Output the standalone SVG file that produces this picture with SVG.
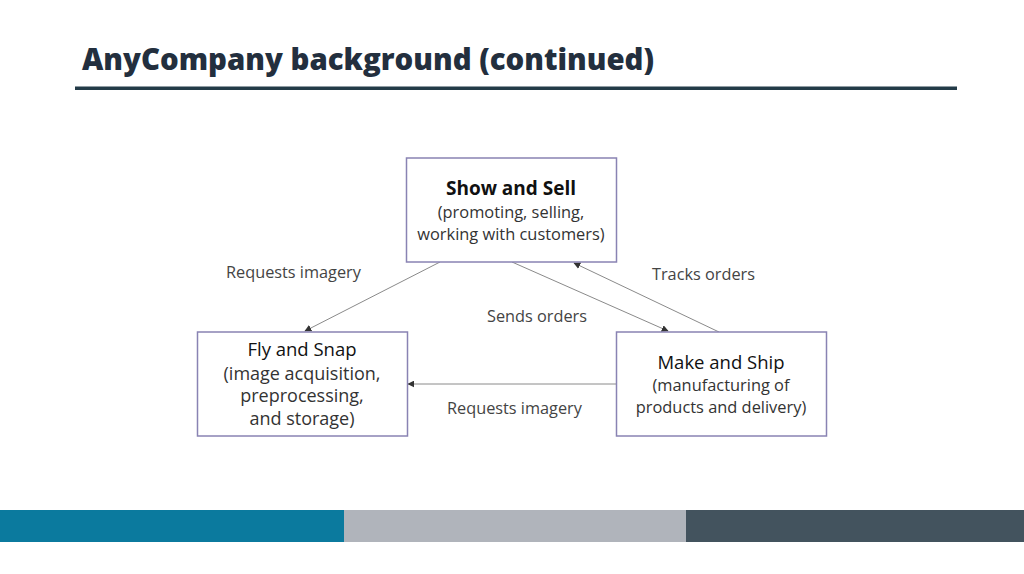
<svg xmlns="http://www.w3.org/2000/svg" width="1024" height="574" viewBox="0 0 1024 574">
  <defs>
    <marker id="arr" viewBox="0 0 10 10" refX="9" refY="5" markerWidth="7" markerHeight="7" markerUnits="userSpaceOnUse" orient="auto">
      <path d="M0,0 L10,5 L0,10 z" fill="#333"/>
    </marker>
    <style>
      .box { fill: #ffffff; stroke: #8983b3; stroke-width: 1.5; }
      .t { font-family: "Open Sans", "Liberation Sans", sans-serif; font-size: 16.4px; fill: #333333; text-anchor: middle; }
      .b { font-weight: 700; font-size: 19px; fill: #111111; }
      .m { font-weight: 500; font-size: 18.5px; fill: #111111; }
      .big { font-size: 18px; }
      .lbl { font-family: "Open Sans", "Liberation Sans", sans-serif; font-size: 16.3px; fill: #444444; }
      .conn { stroke: #8a8a8a; stroke-width: 1; fill: none; marker-end: url(#arr); }
    </style>
  </defs>
  <rect width="1024" height="574" fill="#ffffff"/>
  <g id="header">
    <text x="82" y="70" font-family="'Open Sans', 'Liberation Sans', sans-serif" font-weight="800" font-size="30" fill="#232f3e" textLength="572" lengthAdjust="spacingAndGlyphs">AnyCompany background (continued)</text>
    <rect x="75" y="86.5" width="882" height="3.5" fill="#233b48"/>
  </g>
  <g id="connectors">
    <line class="conn" x1="440" y1="262" x2="305" y2="331"/>
    <line class="conn" x1="512" y1="262" x2="668" y2="331"/>
    <line class="conn" x1="719" y1="332" x2="574" y2="263"/>
    <line class="conn" x1="616" y1="384" x2="408" y2="384"/>
    <text class="lbl" x="226" y="278">Requests imagery</text>
    <text class="lbl" x="487" y="322">Sends orders</text>
    <text class="lbl" x="652" y="280">Tracks orders</text>
    <text class="lbl" x="447" y="414">Requests imagery</text>
  </g>
  <g id="show-and-sell">
    <rect class="box" x="406.5" y="158" width="210" height="104"/>
    <text class="t b" x="511" y="195">Show and Sell</text>
    <text class="t" x="511" y="218">(promoting, selling,</text>
    <text class="t" x="511" y="240">working with customers)</text>
  </g>
  <g id="fly-and-snap">
    <rect class="box" x="197.5" y="332" width="210" height="104"/>
    <text class="t m" x="302" y="356">Fly and Snap</text>
    <text class="t big" x="302" y="380">(image acquisition,</text>
    <text class="t big" x="302" y="402">preprocessing,</text>
    <text class="t big" x="302" y="425">and storage)</text>
  </g>
  <g id="make-and-ship">
    <rect class="box" x="616.5" y="332" width="210" height="104"/>
    <text class="t m" x="721" y="369">Make and Ship</text>
    <text class="t" x="721" y="391">(manufacturing of</text>
    <text class="t" x="721" y="413">products and delivery)</text>
  </g>
  <g id="footer">
    <rect x="0" y="510" width="344" height="32" fill="#0b7a9e"/>
    <rect x="344" y="510" width="342" height="32" fill="#b0b4bb"/>
    <rect x="686" y="510" width="338" height="32" fill="#43535e"/>
  </g>
</svg>
